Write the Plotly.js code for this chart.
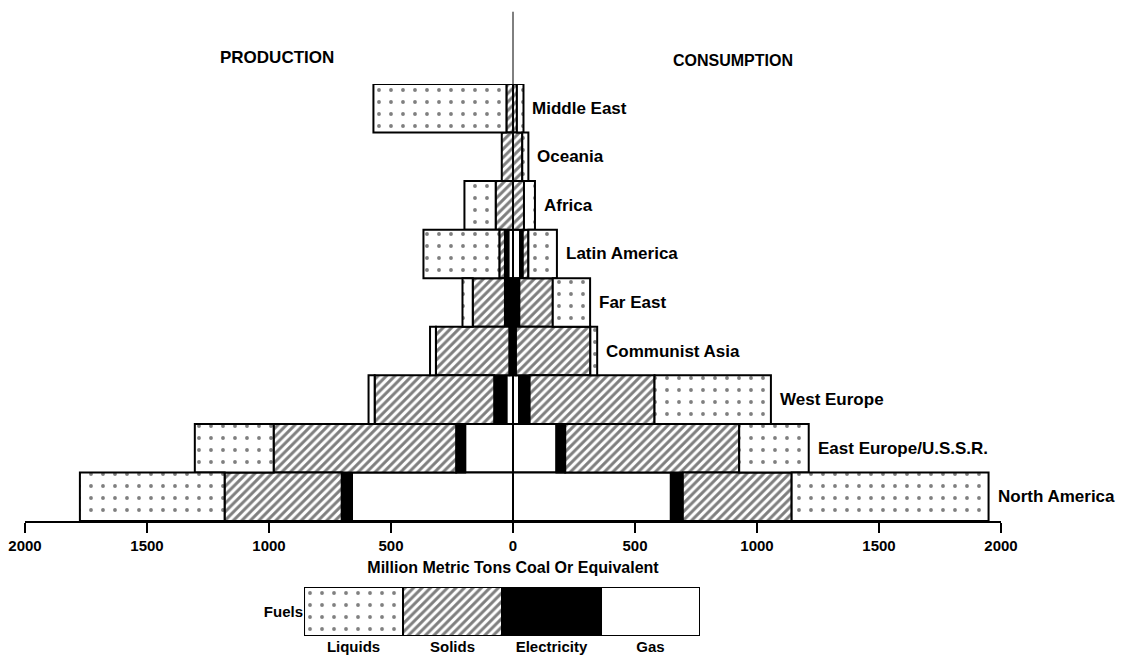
<!DOCTYPE html>
<html>
<head>
<meta charset="utf-8">
<script src="https://cdn.plot.ly/plotly-3.0.1.min.js"></script>
<style>html,body{margin:0;padding:0;background:#fff;}#chart{width:1121px;height:655px;}</style>
</head>
<body>
<div id="chart"></div>
<script>
// Regions, top to bottom
const regions = ['Middle East','Oceania','Africa','Latin America','Far East','Communist Asia','West Europe','East Europe/U.S.S.R.','North America'];

// Production (million metric tons coal equivalent), drawn to the left
const prodGas         = [0, 0, 0, 19, 0, 0, 27, 196, 660];
const prodElectricity = [0, 0, 0, 14, 33, 15, 50, 37, 42];
const prodSolids      = [27, 46, 71, 23, 132, 301, 490, 748, 480];
const prodLiquids     = [545, 0, 128, 311, 42, 24, 25, 323, 593];

// Consumption, drawn to the right
const consGas         = [0, 0, 0, 29, 0, 0, 25, 178, 647];
const consElectricity = [0, 0, 0, 11, 26, 12, 43, 36, 49];
const consSolids      = [16, 38, 45, 23, 137, 305, 512, 713, 446];
const consLiquids     = [27, 25, 45, 117, 153, 28, 477, 285, 807];

// Axis ticks
const tickValues = [-2000, -1500, -1000, -500, 0, 500, 1000, 1500, 2000];
const tickLabels = ['2000', '1500', '1000', '500', '0', '500', '1000', '1500', '2000'];

// Legend key
const fuelNames = ['Liquids', 'Solids', 'Electricity', 'Gas'];
const fuelKeyUnits = [1, 1, 1, 1];

const FONT = 'Liberation Sans, Arial, Helvetica, sans-serif';
const lineStyle = {color: '#000', width: 2};
const styles = {
  Gas: {color: '#ffffff', line: lineStyle},
  Electricity: {color: '#000000', line: lineStyle},
  Solids: {color: '#ffffff', line: lineStyle,
    pattern: {shape: '/', size: 6, solidity: 0.5, fgcolor: '#000', bgcolor: '#fff', fillmode: 'overlay'}},
  Liquids: {color: '#ffffff', line: lineStyle,
    pattern: {shape: '.', size: 12, solidity: 0.08, fgcolor: '#000', bgcolor: '#fff', fillmode: 'overlay'}}
};

function bar(name, vals, sign) {
  return {
    type: 'bar', orientation: 'h', name: name,
    x: vals.map(v => sign * v), y: regions,
    marker: styles[name], hoverinfo: 'x+y+name', showlegend: false
  };
}

const traces = [
  bar('Gas', prodGas, -1), bar('Electricity', prodElectricity, -1),
  bar('Solids', prodSolids, -1), bar('Liquids', prodLiquids, -1),
  bar('Gas', consGas, 1), bar('Electricity', consElectricity, 1),
  bar('Solids', consSolids, 1), bar('Liquids', consLiquids, 1)
];

// legend key as a small stacked bar
fuelNames.forEach((f, i) => {
  traces.push({
    type: 'bar', orientation: 'h', name: f,
    x: [fuelKeyUnits[i]], y: ['Fuels'], xaxis: 'x2', yaxis: 'y2',
    marker: styles[f], hoverinfo: 'name', showlegend: false
  });
});

const consTotals = regions.map((r, i) => consGas[i] + consElectricity[i] + consSolids[i] + consLiquids[i]);

const annotations = regions.map((r, i) => ({
  x: consTotals[i], y: r, xref: 'x', yref: 'y', text: r,
  xanchor: 'left', yanchor: 'middle', xshift: 7, showarrow: false,
  font: {family: FONT, size: 17, color: '#000', weight: 'bold'}
}));
annotations.push({
  x: -967, y: 1.047, xref: 'x', yref: 'paper', text: 'PRODUCTION', showarrow: false,
  xanchor: 'center', yanchor: 'middle', font: {family: FONT, size: 17, color: '#000', weight: 'bold'}
});
annotations.push({
  x: 900, y: 1.043, xref: 'x', yref: 'paper', text: 'CONSUMPTION', showarrow: false,
  xanchor: 'center', yanchor: 'middle', font: {family: FONT, size: 16, color: '#000', weight: 'bold'}
});

const layout = {
  width: 1121, height: 655,
  margin: {l: 25, r: 120, t: 84, b: 15},
  paper_bgcolor: '#fff', plot_bgcolor: '#fff',
  barmode: 'relative', bargap: 0,
  showlegend: false,
  font: {family: FONT, color: '#000'},
  xaxis: {
    domain: [0, 1], range: [-2000, 2000],
    tickvals: tickValues, ticktext: tickLabels,
    ticks: 'outside', ticklen: 10, tickwidth: 2, tickcolor: '#000',
    showline: true, linecolor: '#000', linewidth: 2,
    showgrid: false, zeroline: false, anchor: 'y',
    tickfont: {family: FONT, size: 15, color: '#000', weight: 'bold'},
    title: {text: 'Million Metric Tons Coal Or Equivalent', standoff: 9,
            font: {family: FONT, size: 16, color: '#000', weight: 'bold'}}
  },
  yaxis: {
    domain: [0.214, 1], type: 'category', range: [8.5, -0.5],
    showticklabels: false, showgrid: false, zeroline: false, showline: false, ticks: '', anchor: 'x'
  },
  xaxis2: {
    domain: [0.2859, 0.6916], range: [0, 4], anchor: 'y2',
    tickvals: [0.5, 1.5, 2.5, 3.5], ticktext: fuelNames,
    ticks: '', showline: false, showgrid: false, zeroline: false,
    tickfont: {family: FONT, size: 15, color: '#000', weight: 'bold'}
  },
  yaxis2: {
    domain: [0.0072, 0.0953], type: 'category', anchor: 'x2',
    showgrid: false, zeroline: false, showline: false, ticks: '',
    tickfont: {family: FONT, size: 15, color: '#000', weight: 'bold'}
  },
  shapes: [{
    type: 'line', xref: 'x', yref: 'paper', x0: 0, x1: 0, y0: 0.214, y1: 1.13,
    line: {color: '#000', width: 1}, layer: 'above'
  }],
  annotations: annotations
};

Plotly.newPlot('chart', traces, layout, {staticPlot: true, displayModeBar: false});
</script>
</body>
</html>
